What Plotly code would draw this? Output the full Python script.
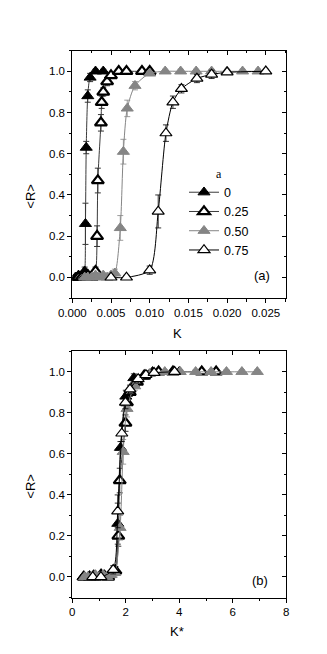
import plotly.graph_objects as go

# ---------------- data ----------------
a_labels = ["0", "0.25", "0.50", "0.75"]

K_a0 = [0.0004, 0.0006, 0.0008, 0.0010, 0.0012, 0.0014, 0.0016, 0.0017, 0.0018, 0.0020, 0.0023, 0.0030, 0.0040]
R_a0 = [0.00, 0.00, 0.01, 0.00, 0.01, 0.01, 0.03, 0.26, 0.63, 0.88, 0.97, 1.00, 1.00]
E_a0 = [0.01, 0.01, 0.01, 0.01, 0.01, 0.01, 0.02, 0.10, 0.03, 0.03, 0.02, 0.01, 0.01]

K_a25 = [0.0008, 0.0012, 0.0016, 0.0020, 0.0025, 0.0030, 0.0032, 0.0033, 0.0037, 0.0038, 0.0040, 0.0045, 0.0050, 0.0060, 0.0070, 0.0090, 0.0100]
R_a25 = [0.00, 0.00, 0.00, 0.01, 0.00, 0.03, 0.20, 0.47, 0.75, 0.85, 0.90, 0.95, 0.98, 1.00, 1.00, 1.00, 1.00]
E_a25 = [0.01, 0.01, 0.01, 0.01, 0.01, 0.02, 0.05, 0.06, 0.04, 0.03, 0.02, 0.02, 0.01, 0.01, 0.01, 0.01, 0.01]

K_a50 = [0.0016, 0.0020, 0.0025, 0.0030, 0.0035, 0.0040, 0.0045, 0.0050, 0.0055, 0.0062, 0.0066, 0.0071, 0.0081, 0.0100, 0.0120, 0.0140, 0.0160, 0.0180, 0.0200, 0.0220, 0.0240]
R_a50 = [0.00, 0.00, 0.00, 0.01, 0.00, 0.01, 0.00, 0.01, 0.02, 0.24, 0.61, 0.82, 0.93, 0.99, 1.00, 1.00, 1.00, 1.00, 1.00, 1.00, 1.00]
E_a50 = [0.01, 0.01, 0.01, 0.01, 0.01, 0.01, 0.01, 0.01, 0.02, 0.06, 0.06, 0.04, 0.02, 0.01, 0.01, 0.01, 0.01, 0.01, 0.01, 0.01, 0.01]

K_a75 = [0.0050, 0.0070, 0.0100, 0.0111, 0.0121, 0.0130, 0.0141, 0.0161, 0.0180, 0.0200, 0.0250]
R_a75 = [0.00, 0.00, 0.035, 0.32, 0.70, 0.85, 0.915, 0.965, 0.985, 0.995, 1.00]
E_a75 = [0.01, 0.01, 0.02, 0.08, 0.04, 0.03, 0.02, 0.02, 0.02, 0.01, 0.01]

# critical coupling used to rescale K -> K* = K / Kc (panel b)
Kc = [0.00100, 0.00186, 0.00347, 0.00654]

y_ticks = [0.0, 0.2, 0.4, 0.6, 0.8, 1.0]
xa_ticks = [0.000, 0.005, 0.010, 0.015, 0.020, 0.025]
xb_ticks = [0, 2, 4, 6, 8]

# ---------------- styling ----------------
W, H = 327, 654
FONT = "Liberation Sans, Arial, sans-serif"
GRAY = "#858585"

Ks = [K_a0, K_a25, K_a50, K_a75]
Rs = [R_a0, R_a25, R_a50, R_a75]
Es = [E_a0, E_a25, E_a50, E_a75]
fills = ["black", "white", GRAY, "white"]
edges = ["black", "black", GRAY, "black"]
edgew = [1, 2.2, 1, 1.2]
lines = ["#3a3a3a", "#3a3a3a", GRAY, "black"]

fig = go.Figure()

for i in range(4):
    for panel in ("a", "b"):
        if panel == "a":
            xs = Ks[i]
            xax, yax = "x", "y"
        else:
            xs = [k / Kc[i] for k in Ks[i]]
            xax, yax = "x2", "y2"
        fig.add_trace(go.Scatter(
            x=xs, y=Rs[i], xaxis=xax, yaxis=yax,
            mode="lines+markers",
            name=a_labels[i],
            legendgroup=a_labels[i],
            showlegend=(panel == "a"),
            line=dict(color=lines[i], width=1, shape="spline", smoothing=0.7),
            marker=dict(symbol="triangle-up", size=10.5, color=fills[i],
                        line=dict(color=edges[i], width=edgew[i])),
            error_y=dict(type="data", array=Es[i], color=edges[i] if i != 2 else GRAY,
                         thickness=0.8, width=3),
            hoverinfo="skip",
        ))

# dummy traces so the mirrored (inside-tick) frame axes are drawn
fig.add_trace(go.Scatter(x=[None], y=[None], xaxis="x3", yaxis="y3", showlegend=False, hoverinfo="skip"))
fig.add_trace(go.Scatter(x=[None], y=[None], xaxis="x4", yaxis="y4", showlegend=False, hoverinfo="skip"))

xd = [64.3 / W, 278.3 / W]
yd_a = [1 - 290.0 / H, 1 - 42.7 / H]
yd_b = [1 - 589.5 / H, 1 - 343.3 / H]
xr_a = [0, 0.02765]
xr_b = [0, 8]
yr = [-0.1, 1.1]

tickfont = dict(family=FONT, size=11.5, color="black")

def base_axis(**kw):
    d = dict(showgrid=False, zeroline=False, showline=True, linecolor="black", linewidth=1,
             ticks="outside", ticklen=4, tickwidth=1, tickcolor="black",
             tickfont=tickfont, automargin=False, fixedrange=True)
    d.update(kw)
    return d

def mirror_axis(**kw):
    d = dict(showgrid=False, zeroline=False, showline=True, linecolor="black", linewidth=1,
             ticks="inside", ticklen=4, tickwidth=1, tickcolor="black",
             showticklabels=False, automargin=False, fixedrange=True)
    d.update(kw)
    return d

minor_y = dict(dtick=0.1, ticklen=2.5, tickcolor="black", tickwidth=1)
minor_xa = dict(dtick=0.0025, ticklen=2.5, tickcolor="black", tickwidth=1)
minor_xb = dict(dtick=1, ticklen=2.5, tickcolor="black", tickwidth=1)

fig.update_layout(
    width=W, height=H,
    margin=dict(l=0, r=0, t=0, b=0),
    paper_bgcolor="white", plot_bgcolor="white",
    xaxis=base_axis(domain=xd, anchor="y", range=xr_a, tickvals=xa_ticks,
                    ticktext=[f"{v:.3f}" for v in xa_ticks], minor=minor_xa),
    yaxis=base_axis(domain=yd_a, anchor="x", range=yr, tickvals=y_ticks,
                    ticktext=[f"{v:.1f}" for v in y_ticks], minor=minor_y),
    xaxis2=base_axis(domain=xd, anchor="y2", range=xr_b, tickvals=xb_ticks,
                     ticktext=[str(v) for v in xb_ticks], minor=minor_xb),
    yaxis2=base_axis(domain=yd_b, anchor="x2", range=yr, tickvals=y_ticks,
                     ticktext=[f"{v:.1f}" for v in y_ticks], minor=minor_y),
    xaxis3=mirror_axis(overlaying="x", anchor="y3", side="top", range=xr_a,
                       tickvals=xa_ticks, minor=dict(minor_xa, ticks="inside")),
    yaxis3=mirror_axis(overlaying="y", anchor="x3", side="right", range=yr,
                       tickvals=y_ticks, minor=dict(minor_y, ticks="inside")),
    xaxis4=mirror_axis(overlaying="x2", anchor="y4", side="top", range=xr_b,
                       tickvals=xb_ticks, minor=dict(minor_xb, ticks="inside")),
    yaxis4=mirror_axis(overlaying="y2", anchor="x4", side="right", range=yr,
                       tickvals=y_ticks, minor=dict(minor_y, ticks="inside")),
    legend=dict(
        x=176 / W, y=1 - 154 / H, xanchor="left", yanchor="top",
        bgcolor="rgba(0,0,0,0)", borderwidth=0,
        font=dict(family=FONT, size=12.5, color="black"),
        title=dict(text="a", side="top center",
                   font=dict(family="Liberation Serif, Times New Roman, serif", size=12, color="black")),
        itemwidth=30, tracegroupgap=0, traceorder="normal",
    ),
    showlegend=True,
)

title_font = dict(family=FONT, size=13, color="black")
ann = [
    dict(text="&lt;R&gt;", x=21.7 / W, y=1 - 188 / H, textangle=-90),
    dict(text="&lt;R&gt;", x=21.7 / W, y=1 - 478 / H, textangle=-90),
    dict(text="K", x=170 / W, y=1 - 325 / H),
    dict(text="K*", x=169 / W, y=1 - 623 / H),
    dict(text="(a)", x=254.3 / W, y=1 - 267.7 / H),
    dict(text="(b)", x=252.3 / W, y=1 - 572.7 / H),
]
for a in ann:
    fig.add_annotation(xref="paper", yref="paper", showarrow=False,
                       xanchor="center", yanchor="middle", font=title_font, **a)

fig.write_html("out.html")
